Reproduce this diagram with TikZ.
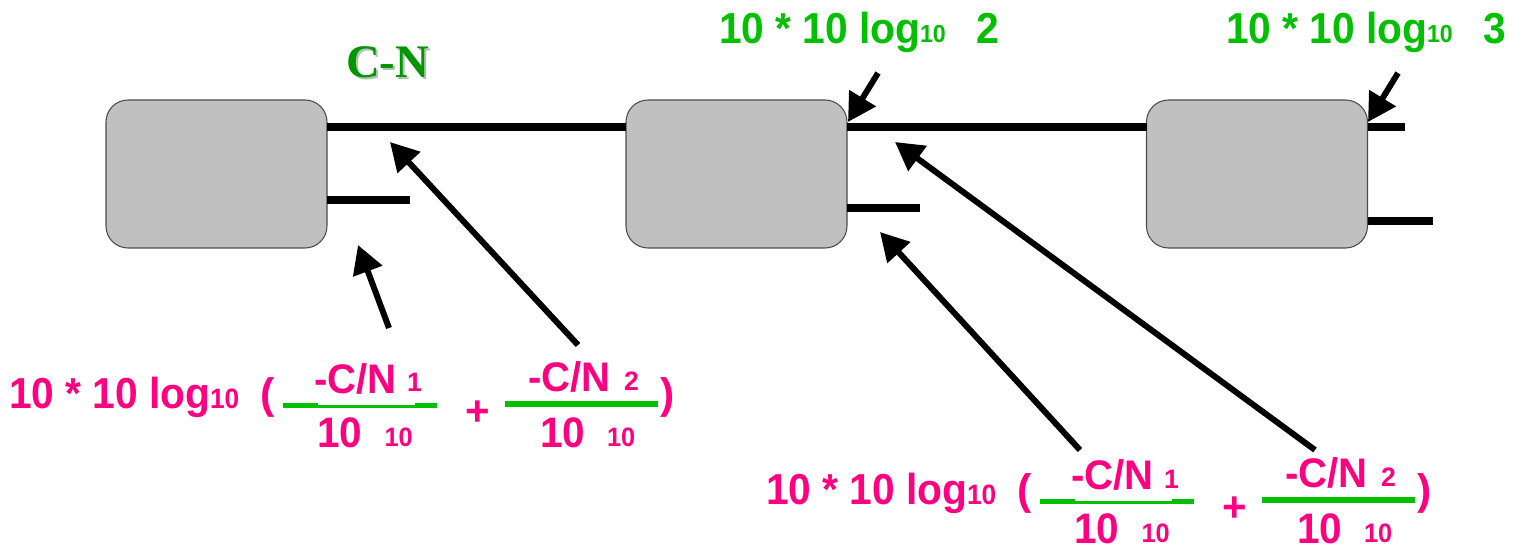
\documentclass[tikz,border=0pt]{standalone}
\usepackage{fontspec}
\usepackage{graphicx}
\usetikzlibrary{arrows.meta}
\newfontfamily\arfont{Liberation Sans}
\newfontfamily\tmfont{Liberation Serif}
\definecolor{boxgray}{RGB}{192,192,192}
\definecolor{pinktxt}{RGB}{255,0,128}
\definecolor{lgreen}{RGB}{0,192,0}
\definecolor{dgreen}{RGB}{0,150,0}
\definecolor{shadowc}{RGB}{175,195,175}
\newcommand\fsz[1]{\fontsize{#1}{#1}\selectfont}
\newcommand\pinkformula[1]{%
  \node[txt,text=pinktxt] (#1main) at (9,408) {\fsz{32.5pt}\scalebox{0.94}[1]{10 * 10 log}};
  \node[txt,text=pinktxt] (#1sub) at (210,408) {\fsz{21pt}\scalebox{0.94}[1]{10}};
  \node[txt,text=pinktxt] (#1lp) at (260.5,408) {\fsz{32pt}(};
  \fill[lgreen] (283.3,402.7) rectangle (318.3,408.3);
  \fill[lgreen] (318.3,405) rectangle (415,408.3);
  \fill[lgreen] (415,402.7) rectangle (436.7,408.3);
  \node[txt,text=pinktxt] (#1numa) at (314,393) {\fsz{31pt}\scalebox{0.97}[1]{-C/N}};
  \node[txt,text=pinktxt] (#1numai) at (407,392) {\fsz{20pt}1};
  \node[txt,text=pinktxt] (#1dena) at (317,447) {\fsz{32pt}\scalebox{0.95}[1]{10}};
  \node[txt,text=pinktxt] (#1denai) at (384.5,446) {\fsz{20pt}\scalebox{0.95}[1]{10}};
  \node[txt,text=pinktxt] (#1plus) at (465,425) {\fsz{31.5pt}+};
  \fill[lgreen] (505,401) rectangle (658.3,406.7);
  \node[txt,text=pinktxt] (#1numb) at (528,391) {\fsz{31pt}\scalebox{0.97}[1]{-C/N}};
  \node[txt,text=pinktxt] (#1numbi) at (624,390) {\fsz{20pt}2};
  \node[txt,text=pinktxt] (#1denb) at (540,447) {\fsz{32pt}\scalebox{0.95}[1]{10}};
  \node[txt,text=pinktxt] (#1denbi) at (607,446) {\fsz{20pt}\scalebox{0.95}[1]{10}};
  \node[txt,text=pinktxt] (#1rp) at (660,408) {\fsz{32pt})};
}
\newcommand\greenlabel[2]{%
  \node[txt,text=lgreen] (#1main) at (719,44) {\fsz{32.5pt}\scalebox{0.94}[1]{10 * 10 log}};
  \node[txt,text=lgreen] (#1sub) at (920,43) {\fsz{18.5pt}\scalebox{0.94}[1]{10}};
  \node[txt,text=lgreen] (#1num) at (976,44) {\fsz{32.5pt}\scalebox{0.94}[1]{#2}};
}
\begin{document}
\begin{tikzpicture}[x=0.75pt,y=-0.75pt,
  box/.style={draw=black!70, line width=0.8pt, fill=boxgray, rounded corners=16.5pt,
    minimum width=165.75pt, minimum height=111pt, inner sep=0pt, outer sep=0pt},
  wire/.style={line width=6pt},
  ptr/.style={line width=4.5pt, -{Triangle[length=21pt,width=22.5pt]}},
  txt/.style={anchor=base west, inner sep=0pt, outer sep=0pt, font=\arfont\bfseries}]
\useasboundingbox (0,0) rectangle (1514,552);

% junction points for wires
\coordinate (t1) at (0,127.5);
\coordinate (s1) at (0,200);
\coordinate (s2) at (0,208);
\coordinate (s3) at (0,221);
\coordinate (e1) at (410,200);
\coordinate (e2) at (920,208);
\coordinate (e3) at (1405,127.5);
\coordinate (e4) at (1433,221);

% boxes
\node[box] (b1) at (216.5,174) {};
\node[box] (b2) at (736.5,174) {};
\node[box] (b3) at (1257,174) {};

% wires
\draw[wire] (b1.east |- t1) -- (b2.west |- t1);
\draw[wire] (b2.east |- t1) -- (b3.west |- t1);
\draw[wire] (b3.east |- t1) -- (e3);
\draw[wire] (b1.east |- s1) -- (e1);
\draw[wire] (b2.east |- s2) -- (e2);
\draw[wire] (b3.east |- s3) -- (e4);

% C-N label
\node[txt,font=\tmfont\bfseries,text=shadowc] (cnshadow) at (348,80) {\fsz{35pt}C-N};
\node[txt,font=\tmfont\bfseries,text=dgreen] (cn) at (346,78) {\fsz{35pt}C-N};

% green labels
\greenlabel{ga}{2}
\begin{scope}[shift={(507,0)}]
\greenlabel{gb}{3}
\end{scope}

% pink formulas
\pinkformula{fa}
\begin{scope}[shift={(757,96)}]
\pinkformula{fb}
\end{scope}

% arrows
\coordinate (a1s) at (389,328); \coordinate (a1e) at (358,245);
\coordinate (a2s) at (578,345); \coordinate (a2e) at (390,142);
\coordinate (a3s) at (878,73);  \coordinate (a3e) at (848,122);
\coordinate (a4s) at (1398,73); \coordinate (a4e) at (1368,122);
\coordinate (a5s) at (1080,450); \coordinate (a5e) at (880,232);
\coordinate (a6s) at (1315,450); \coordinate (a6e) at (895,142);
\draw[ptr] (a1s) -- (a1e);
\draw[ptr] (a2s) -- (a2e);
\draw[ptr] (a3s) -- (a3e);
\draw[ptr] (a4s) -- (a4e);
\draw[ptr] (a5s) -- (a5e);
\draw[ptr] (a6s) -- (a6e);
\end{tikzpicture}
\end{document}
